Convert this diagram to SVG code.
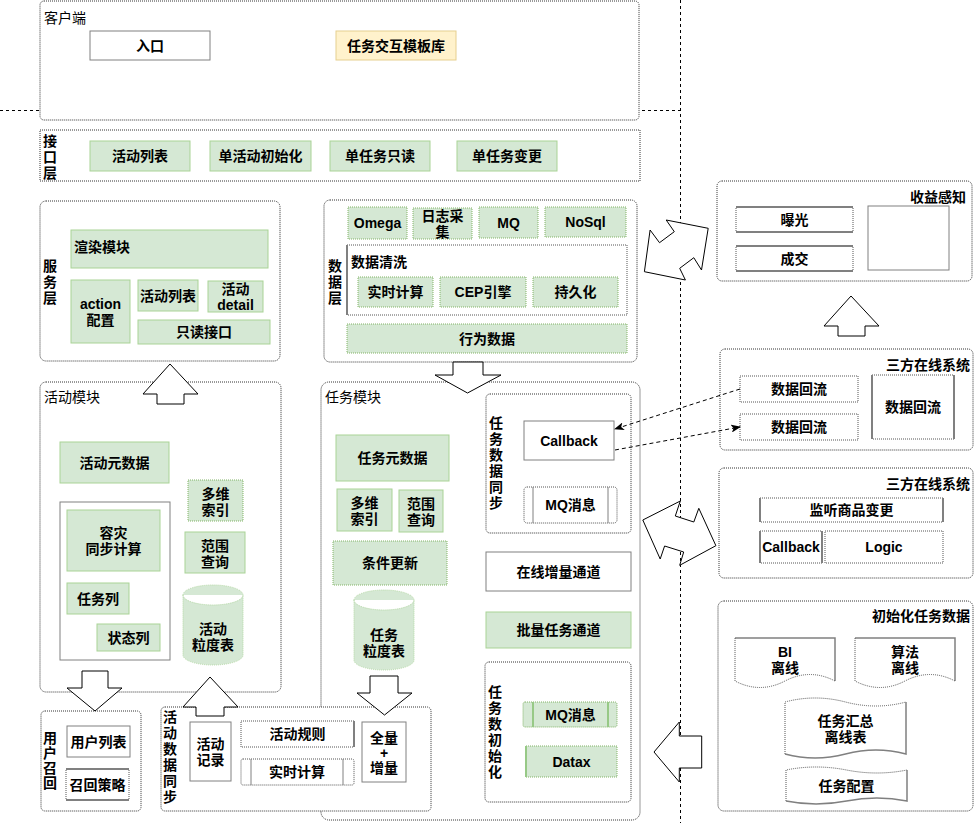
<svg xmlns="http://www.w3.org/2000/svg" width="974" height="823" viewBox="0 0 974 823">
<style>
.t{font-family:"Liberation Sans","Noto Sans CJK SC",sans-serif;font-size:14px;fill:#000;dominant-baseline:central}
.b{font-weight:bold}
.c{text-anchor:middle}
.r{text-anchor:end}
.cont{fill:#fff;stroke:#333;stroke-dasharray:1 1}
.g{fill:#d5e8d4;stroke:#a9d396}
.gd{fill:#d5e8d4;stroke:#82b366;stroke-dasharray:1 1}
.w{fill:#fff;stroke:#808080}
.wd{fill:#fff;stroke:#555;stroke-dasharray:1 1}
.sg{stroke:#808080;stroke-width:2;fill:none}
.sgr{stroke:#97c986;stroke-width:2;fill:none}
.ba{fill:#fff;stroke:#000}
.div{stroke:#000;stroke-dasharray:3 3;fill:none}
.cn{stroke:#000;stroke-dasharray:4 3;fill:none}
</style>
<defs>
<marker id="ah" viewBox="0 0 10 8" refX="9" refY="4" markerWidth="10" markerHeight="8" orient="auto" markerUnits="userSpaceOnUse">
<path d="M0,0 L10,4 L0,8 L2.5,4 z" fill="#000"/>
</marker>
</defs>

<g id="dividers">
<path class="div" d="M0,110.5 H680.5"/>
<path class="div" d="M680.5,0 V823"/>
</g>

<g id="client">
<rect class="cont" x="40" y="1" width="599" height="119" rx="4"/>
<text class="t" x="44" y="18">客户端</text>
<rect class="w" x="90" y="31" width="120" height="29"/>
<text class="t b c" x="150" y="45.5">入口</text>
<rect x="336" y="31" width="120" height="29" fill="#fff2cc" stroke="#e6cf8f"/>
<text class="t b c" x="396" y="45.5">任务交互模板库</text>
</g>

<g id="api-layer">
<rect class="cont" x="40" y="130" width="600" height="51"/>
<text class="t b" x="43"><tspan x="43" y="141">接</tspan><tspan x="43" y="157">口</tspan><tspan x="43" y="173">层</tspan></text>
<rect class="g" x="90" y="141" width="100" height="30"/>
<text class="t b c" x="140" y="156">活动列表</text>
<rect class="g" x="210" y="141" width="101" height="30"/>
<text class="t b c" x="260.5" y="156">单活动初始化</text>
<rect class="g" x="330" y="141" width="100" height="30"/>
<text class="t b c" x="380" y="156">单任务只读</text>
<rect class="g" x="457" y="141" width="100" height="30"/>
<text class="t b c" x="507" y="156">单任务变更</text>
</g>

<g id="service-layer">
<rect class="cont" x="40" y="201" width="240" height="160" rx="6"/>
<text class="t b" x="43"><tspan x="43" y="266">服</tspan><tspan x="43" y="282">务</tspan><tspan x="43" y="298">层</tspan></text>
<rect class="g" x="71" y="230" width="197" height="38"/>
<text class="t b" x="74" y="247">渲染模块</text>
<rect class="g" x="71" y="280" width="59" height="63"/>
<text class="t b c" x="100.5"><tspan x="100.5" y="304">action</tspan><tspan x="100.5" y="320">配置</tspan></text>
<rect class="g" x="138" y="280" width="60" height="31"/>
<text class="t b c" x="168" y="296">活动列表</text>
<rect class="g" x="208" y="281" width="55" height="31"/>
<text class="t b c" x="235.5"><tspan x="235.5" y="289">活动</tspan><tspan x="235.5" y="305">detail</tspan></text>
<rect class="g" x="138" y="320" width="132" height="24"/>
<text class="t b c" x="204" y="332">只读接口</text>
</g>

<g id="data-layer">
<rect class="cont" x="324" y="200" width="313" height="162" rx="6"/>
<text class="t b" x="328"><tspan x="328" y="266">数</tspan><tspan x="328" y="282">据</tspan><tspan x="328" y="298">层</tspan></text>
<rect class="gd" x="348" y="207" width="59" height="32"/>
<text class="t b c" x="377.5" y="223">Omega</text>
<rect class="gd" x="413" y="208" width="59" height="31"/>
<text class="t b c" x="442.5"><tspan x="442.5" y="216">日志采</tspan><tspan x="442.5" y="232">集</tspan></text>
<rect class="gd" x="479" y="207" width="59" height="31"/>
<text class="t b c" x="508.5" y="222.5">MQ</text>
<rect class="gd" x="545" y="207" width="81" height="30"/>
<text class="t b c" x="585.5" y="222">NoSql</text>
<rect class="wd" x="347" y="245" width="280" height="70"/>
<path class="sg" d="M347,245 V315"/>
<text class="t b" x="351" y="262">数据清洗</text>
<rect class="gd" x="358" y="277" width="75" height="30"/>
<text class="t b c" x="395.5" y="292">实时计算</text>
<rect class="gd" x="440" y="277" width="86" height="30"/>
<text class="t b c" x="483" y="292">CEP引擎</text>
<rect class="gd" x="533" y="277" width="85" height="30"/>
<text class="t b c" x="575.5" y="292">持久化</text>
<rect class="gd" x="347" y="324" width="280" height="29"/>
<text class="t b c" x="487" y="338.5">行为数据</text>
</g>

<g id="revenue">
<rect class="cont" x="717" y="181" width="255" height="100" rx="5"/>
<text class="t b r" x="966" y="197">收益感知</text>
<rect class="wd" x="736" y="207" width="117" height="25"/>
<path class="sg" d="M736,207 H853 M736,232 H853"/>
<text class="t b c" x="794.5" y="219.5">曝光</text>
<rect class="wd" x="736" y="246" width="117" height="25"/>
<path class="sg" d="M736,246 H853 M736,271 H853"/>
<text class="t b c" x="794.5" y="258.5">成交</text>
<rect class="w" x="868" y="206" width="81" height="64"/>
</g>

<g id="third-party-1">
<rect class="cont" x="720" y="349" width="253" height="101" rx="5"/>
<text class="t b r" x="970" y="365">三方在线系统</text>
<rect class="wd" x="740" y="376" width="118" height="26"/>
<text class="t b c" x="799" y="389">数据回流</text>
<rect class="wd" x="740" y="414" width="118" height="26"/>
<text class="t b c" x="799" y="427">数据回流</text>
<rect class="wd" x="872" y="375" width="82" height="64"/>
<path class="sg" d="M872,375 V439 M954,375 V439"/>
<text class="t b c" x="913" y="407">数据回流</text>
</g>

<g id="third-party-2">
<rect class="cont" x="719" y="468" width="254" height="110" rx="5"/>
<text class="t b r" x="970" y="484">三方在线系统</text>
<rect class="wd" x="760" y="498" width="183" height="24"/>
<path class="sg" d="M760,498 V522 M943,498 V522"/>
<text class="t b c" x="851.5" y="510">监听商品变更</text>
<rect class="wd" x="760" y="531" width="62" height="32"/>
<path class="sg" d="M760,531 V563 M822,531 V563"/>
<text class="t b c" x="791" y="547">Callback</text>
<rect class="wd" x="825" y="531" width="118" height="32"/>
<text class="t b c" x="884" y="547">Logic</text>
</g>

<g id="init-task-data">
<rect class="cont" x="718" y="601" width="255" height="210" rx="6"/>
<text class="t b r" x="970" y="616">初始化任务数据</text>
<path d="M735,638 H835 V681 Q810,668 785,681 Q760,694 735,681 Z" fill="#fff" stroke="none"/>
<path class="sg" style="stroke-width:1.5" d="M735,638 H835 V681"/>
<path fill="none" stroke="#555" stroke-dasharray="1 1" d="M835,681 Q810,668 785,681 Q760,694 735,681 V638"/>
<text class="t b c" x="785"><tspan x="785" y="652">BI</tspan><tspan x="785" y="668">离线</tspan></text>
<path d="M855,638 H955 V681 Q930,668 905,681 Q880,694 855,681 Z" fill="#fff" stroke="none"/>
<path class="sg" style="stroke-width:1.5" d="M855,638 H955 V681"/>
<path fill="none" stroke="#555" stroke-dasharray="1 1" d="M955,681 Q930,668 905,681 Q880,694 855,681 V638"/>
<text class="t b c" x="905"><tspan x="905" y="652">算法</tspan><tspan x="905" y="668">离线</tspan></text>
<path d="M785,702 Q815,694 845.5,702 Q876,710 906,702 V754 Q876,746 845.5,754 Q815,762 785,754 Z" fill="#fff" stroke="none"/>
<path fill="none" stroke="#555" stroke-dasharray="1 1" d="M785,754 V702 Q815,694 845.5,702 Q876,710 906,702"/>
<path class="sg" style="stroke-width:1.5" d="M906,702 V754 Q876,746 845.5,754 Q815,762 785,754"/>
<text class="t b c" x="845.5"><tspan x="845.5" y="721">任务汇总</tspan><tspan x="845.5" y="737">离线表</tspan></text>
<path d="M786,770 Q816,764 846.5,770 Q877,776 907,770 V801 Q877,795 846.5,801 Q816,807 786,801 Z" fill="#fff" stroke="none"/>
<path fill="none" stroke="#555" stroke-dasharray="1 1" d="M786,801 V770 Q816,764 846.5,770 Q877,776 907,770"/>
<path class="sg" style="stroke-width:1.5" d="M907,770 V801 Q877,795 846.5,801 Q816,807 786,801"/>
<text class="t b c" x="846.5" y="786">任务配置</text>
</g>

<g id="activity-module">
<rect class="cont" x="40" y="382" width="241" height="310" rx="6"/>
<text class="t" x="44" y="397">活动模块</text>
<rect class="g" x="60" y="442" width="109" height="41"/>
<text class="t b c" x="114.5" y="462.5">活动元数据</text>
<rect class="w" x="60" y="502" width="110" height="158"/>
<rect class="g" x="67" y="510" width="93" height="61"/>
<text class="t b c" x="113.5"><tspan x="113.5" y="533">容灾</tspan><tspan x="113.5" y="549">同步计算</tspan></text>
<rect class="g" x="67" y="583" width="62" height="31"/>
<text class="t b c" x="98" y="598.5">任务列</text>
<rect class="g" x="97" y="624" width="63" height="27"/>
<text class="t b c" x="128.5" y="637.5">状态列</text>
<rect class="gd" x="188" y="480" width="55" height="41"/>
<text class="t b c" x="215.5"><tspan x="215.5" y="494">多维</tspan><tspan x="215.5" y="510">索引</tspan></text>
<rect class="g" x="185" y="532" width="60" height="41"/>
<text class="t b c" x="215"><tspan x="215" y="546">范围</tspan><tspan x="215" y="562">查询</tspan></text>
<path d="M183,595 A30,10 0 0 1 243,595 V655 A30,10 0 0 1 183,655 Z M183,595 A30,10 0 0 0 243,595" fill="#d5e8d4" stroke="#b5d9a6" stroke-dasharray="1 1"/>
<text class="t b c" x="213"><tspan x="213" y="629">活动</tspan><tspan x="213" y="645">粒度表</tspan></text>
</g>

<g id="task-module">
<rect class="cont" x="321" y="382" width="319" height="438" rx="8"/>
<text class="t" x="325" y="397">任务模块</text>
<rect class="g" x="336" y="435" width="113" height="46"/>
<text class="t b c" x="392.5" y="458">任务元数据</text>
<rect class="g" x="337" y="489" width="55" height="42"/>
<text class="t b c" x="364.5"><tspan x="364.5" y="503">多维</tspan><tspan x="364.5" y="519">索引</tspan></text>
<rect class="g" x="399" y="490" width="44" height="42"/>
<text class="t b c" x="421"><tspan x="421" y="504">范围</tspan><tspan x="421" y="520">查询</tspan></text>
<rect class="gd" x="333" y="541" width="114" height="44"/>
<text class="t b c" x="390" y="563">条件更新</text>
<path d="M354,600 A30,10 0 0 1 414,600 V660 A30,10 0 0 1 354,660 Z M354,600 A30,10 0 0 0 414,600" fill="#d5e8d4" stroke="#b5d9a6" stroke-dasharray="1 1"/>
<text class="t b c" x="384"><tspan x="384" y="635">任务</tspan><tspan x="384" y="651">粒度表</tspan></text>
</g>

<g id="task-data-sync">
<rect class="cont" x="486" y="394" width="145" height="139" rx="4"/>
<text class="t b" x="489"><tspan x="489" y="423">任</tspan><tspan x="489" y="439">务</tspan><tspan x="489" y="455">数</tspan><tspan x="489" y="471">据</tspan><tspan x="489" y="487">同</tspan><tspan x="489" y="503">步</tspan></text>
<rect class="w" x="524" y="421" width="90" height="39"/>
<text class="t b c" x="569" y="440.5">Callback</text>
<rect class="wd" x="524" y="487" width="93" height="36" rx="3"/>
<path stroke="#808080" d="M533,487 V523 M608,487 V523"/>
<text class="t b c" x="570.5" y="505">MQ消息</text>
</g>

<g id="online-channel">
<rect class="w" x="486" y="552" width="145" height="39"/>
<text class="t b c" x="558.5" y="571.5">在线增量通道</text>
</g>

<g id="batch-channel">
<rect class="g" x="486" y="612" width="145" height="36"/>
<text class="t b c" x="558.5" y="630">批量任务通道</text>
</g>

<g id="task-init">
<rect class="cont" x="485" y="662" width="146" height="140" rx="4"/>
<text class="t b" x="488"><tspan x="488" y="692">任</tspan><tspan x="488" y="708">务</tspan><tspan x="488" y="724">数</tspan><tspan x="488" y="740">初</tspan><tspan x="488" y="756">始</tspan><tspan x="488" y="772">化</tspan></text>
<rect class="gd" x="523" y="702" width="94" height="25" rx="2"/>
<path class="sgr" d="M533,702 V727 M608,702 V727"/>
<text class="t b c" x="570.5" y="714.5">MQ消息</text>
<rect class="gd" x="526" y="746" width="91" height="31"/>
<path class="sgr" d="M526,746 V777"/>
<text class="t b c" x="571.5" y="761.5">Datax</text>
</g>

<g id="user-recall">
<rect class="cont" x="41" y="711" width="100" height="100" rx="4"/>
<text class="t b" x="43"><tspan x="43" y="738">用</tspan><tspan x="43" y="753">户</tspan><tspan x="43" y="768">召</tspan><tspan x="43" y="783">回</tspan></text>
<rect class="w" x="67" y="726" width="63" height="31"/>
<text class="t b c" x="98.5" y="741.5">用户列表</text>
<rect class="wd" x="66" y="769" width="63" height="31"/>
<path class="sg" d="M66,769 H129 M66,800 H129"/>
<text class="t b c" x="97.5" y="784.5">召回策略</text>
</g>

<g id="activity-data-sync">
<rect class="cont" x="161" y="707" width="270" height="104" rx="4"/>
<text class="t b" x="163"><tspan x="163" y="717">活</tspan><tspan x="163" y="733">动</tspan><tspan x="163" y="749">数</tspan><tspan x="163" y="765">据</tspan><tspan x="163" y="781">同</tspan><tspan x="163" y="797">步</tspan></text>
<rect class="w" x="190" y="722" width="41" height="59"/>
<text class="t b c" x="210.5"><tspan x="210.5" y="744">活动</tspan><tspan x="210.5" y="760">记录</tspan></text>
<rect class="wd" x="241" y="721" width="113" height="26"/>
<path class="sg" d="M354,721 V747"/>
<text class="t b c" x="297.5" y="734">活动规则</text>
<rect class="wd" x="241" y="759" width="113" height="26" rx="2"/>
<path stroke="#808080" d="M251,759 V785 M343,759 V785"/>
<text class="t b c" x="297" y="772">实时计算</text>
<rect class="w" x="362" y="722" width="44" height="60"/>
<text class="t b c" x="384"><tspan x="384" y="738">全量</tspan><tspan x="384" y="753">+</tspan><tspan x="384" y="768">增量</tspan></text>
</g>

<g id="connectors">
<polygon class="ba" points="170,364 198,394 184,394 184,404 157,404 157,394 143,394"/>
<polygon class="ba" points="453,362 483,362 483,375 501,375 467.5,393 435,375 453,375"/>
<polygon class="ba" points="82,671 108,671 108,688 122,688 95,711 67,688 82,688"/>
<polygon class="ba" points="210,677 238,707 224,707 224,716 196,716 196,707 183,707"/>
<polygon class="ba" points="370,676 398,676 398,693 412,693 384.5,715 357,693 370,693"/>
<polygon class="ba" points="851,296 879,326 865,326 865,336 838,336 838,326 824,326"/>
<polygon class="ba" points="666.2,220 674.3,231.7 659.5,242.7 650.1,230 644.4,271.7 685.4,280 679.7,268.3 693.8,257.7 701.5,270 708.2,228.3"/>
<polygon class="ba" points="680.3,501 675.3,516 693.8,522 698.8,508.3 715.9,545.7 679.7,565.3 683.7,552 664.6,546 660.2,559 642.8,520"/>
<polygon class="ba" points="654,752 679.3,722 679.3,736 701.7,736 701.7,768 679.3,768 679.3,782"/>
<path class="cn" d="M740,389 L615,429" marker-end="url(#ah)"/>
<path class="cn" d="M615,450 L740,427" marker-end="url(#ah)"/>
</g>
</svg>
